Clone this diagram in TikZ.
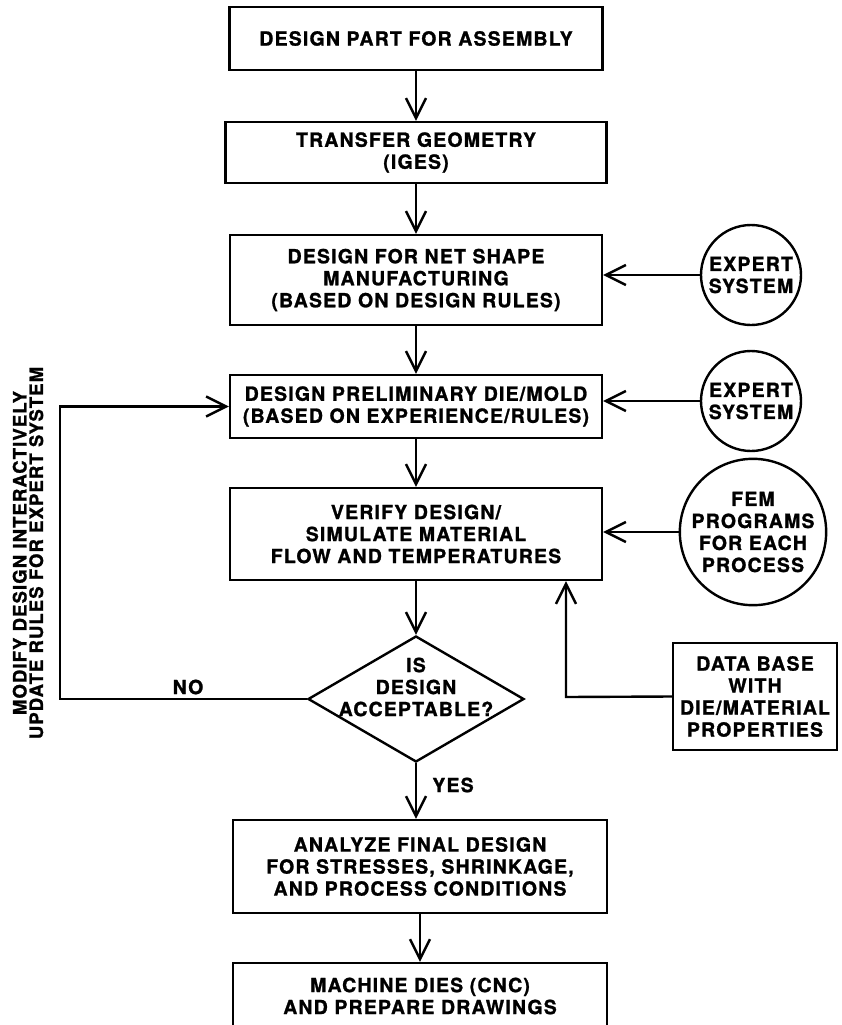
\documentclass[tikz,border=0pt]{standalone}
\usepackage{fontspec}
\newfontfamily\flowFont[LetterSpace=6, BoldFeatures={FakeBold=1.2}]{TeX Gyre Heros}
\usetikzlibrary{arrows.meta}
\usetikzlibrary{shapes.geometric}
\tikzstyle{flowText} = [font=\flowFont\bfseries\fontsize{19.5pt}{22pt}\selectfont, align=center]
\tikzstyle{stepBox} = [flowText, draw, line width=2.4pt, inner sep=0pt]
\tikzstyle{expertCircle} = [flowText, draw, circle, line width=2.4pt, inner sep=0pt]
\tikzstyle{decisionDiamond} = [draw, diamond, line width=2.4pt, inner sep=0pt, minimum width=216pt, minimum height=126pt]
\tikzstyle{flowArrow} = [line width=2.4pt, -{Straight Barb[length=20pt,width=20pt]}]
\tikzstyle{sideNote} = [align=center, font=\flowFont\bfseries\fontsize{18.5pt}{16.5pt}\selectfont]

\begin{document}
\begin{tikzpicture}[x=1pt, y=-1pt]
  \useasboundingbox (0,0) rectangle (842,1025);
  \clip (0,0) rectangle (842,1025);
  % main column
  \node [stepBox, minimum width=373pt, minimum height=63pt] (partDesign) at (416,38.5) {DESIGN PART FOR ASSEMBLY};
  \node [stepBox, minimum width=381pt, minimum height=61pt] (geometry) at (416,152.5) {TRANSFER GEOMETRY\\(IGES)};
  \node [stepBox, minimum width=372pt, minimum height=90pt] (netShape) at (416,280) {DESIGN FOR NET SHAPE\\MANUFACTURING\\(BASED ON DESIGN RULES)};
  \node [stepBox, minimum width=372pt, minimum height=63pt] (prelim) at (416,406.5) {DESIGN PRELIMINARY DIE/MOLD\\(BASED ON EXPERIENCE/RULES)};
  \node [stepBox, minimum width=372pt, minimum height=92pt] (verify) at (416,534) {VERIFY DESIGN/\\SIMULATE MATERIAL\\FLOW AND TEMPERATURES};
  \node [decisionDiamond] (accept) at (416,699) {};
  \node [flowText] (acceptText) at (416,687) {IS\\DESIGN\\ACCEPTABLE?};
  \node [stepBox, minimum width=374pt, minimum height=93pt] (finalAnalysis) at (420,866.5) {ANALYZE FINAL DESIGN\\FOR STRESSES, SHRINKAGE,\\AND PROCESS CONDITIONS};
  \node [stepBox, minimum width=374pt, minimum height=66pt] (machineDies) at (420,996) {MACHINE DIES (CNC)\\AND PREPARE DRAWINGS};
  % side inputs
  \node [expertCircle, minimum size=100pt] (expertOne) at (751,275) {EXPERT\\SYSTEM};
  \node [expertCircle, minimum size=100pt] (expertTwo) at (751,401) {EXPERT\\SYSTEM};
  \node [expertCircle, minimum size=132pt] (femPrograms) at (753,532) {FEM\\PROGRAMS\\FOR EACH\\PROCESS};
  \node [stepBox, minimum width=164pt, minimum height=107pt] (database) at (755,696.5) {DATA BASE\\WITH\\DIE/MATERIAL\\PROPERTIES};
  \node [flowText] (noLabel) at (188,687) {NO};
  \node [flowText] (yesLabel) at (453,785) {YES};
  \node [sideNote, rotate=90] (modifyNote) at (28,553) {MODIFY DESIGN INTERACTIVELY\\UPDATE RULES FOR EXPERT SYSTEM};
  \coordinate (noTurn) at (60,699);
  \coordinate (dbTurn) at (566,697);
  % connectors
  \draw [flowArrow] (partDesign) -- (geometry);
  \draw [flowArrow] (geometry) -- (netShape);
  \draw [flowArrow] (netShape) -- (prelim);
  \draw [flowArrow] (prelim) -- (verify);
  \draw [flowArrow] (verify) -- (accept);
  \draw [flowArrow] (accept.south) -- (accept.south |- finalAnalysis.north);
  \draw [flowArrow] (finalAnalysis.south -| machineDies.north) -- (machineDies.north);
  \draw [flowArrow] (expertOne) -- (expertOne -| netShape.east);
  \draw [flowArrow] (expertTwo) -- (expertTwo -| prelim.east);
  \draw [flowArrow] (femPrograms) -- (femPrograms -| verify.east);
  \draw [flowArrow] (database.west) -- (dbTurn) -- (dbTurn |- verify.south);
  \draw [flowArrow] (accept.west) -- (noTurn) |- (prelim.west);
\end{tikzpicture}
\end{document}
